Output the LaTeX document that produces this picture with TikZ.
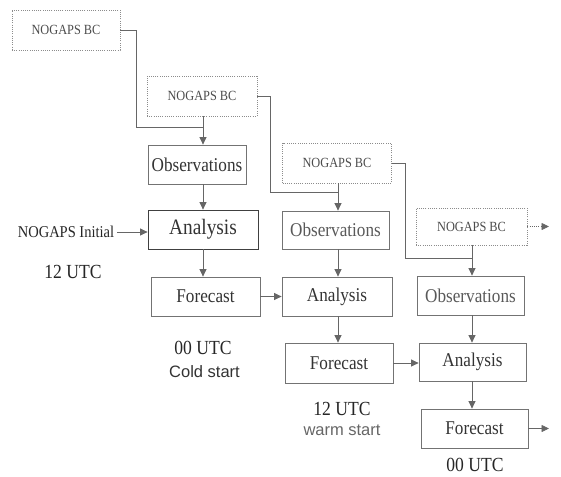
\documentclass[tikz,border=0pt]{standalone}
\usepackage{fontspec}
\setmainfont{Liberation Serif}
\newfontfamily\cond[FakeStretch=0.88]{Liberation Serif}
\newfontfamily\arialf{Liberation Sans}
\usetikzlibrary{arrows.meta}
\begin{document}
\begin{tikzpicture}[x=1pt,y=-1pt,
 box/.style={draw=black!55, line width=0.8pt, minimum height=39pt, inner sep=0pt, font=\cond\fontsize{19.5}{20}\selectfont, text=black!80},
 bcbox/.style={draw=black!45, dash pattern=on 1pt off 1.2pt, line width=0.8pt, minimum height=40pt, inner sep=0pt, font=\cond\fontsize{14}{15}\selectfont, text=black!70},
 conn/.style={draw=black!60, line width=0.8pt},
 arr/.style={conn, -{Triangle[length=7.5pt,width=7pt]}},
 lbl/.style={font=\cond\fontsize{20}{22}\selectfont, text=black!85, inner sep=0pt},
 sub/.style={font=\arialf\fontsize{16.5}{18}\selectfont, text=black!80, inner sep=0pt}]
\useasboundingbox (0,0) rectangle (561,476);
% NOGAPS BC boxes
\node[bcbox, minimum width=108pt] (BC1) at (66,30) {NOGAPS BC};
\node[bcbox, minimum width=110pt] (BC2) at (202,96) {NOGAPS BC};
\node[bcbox, minimum width=109pt] (BC3) at (337,163) {NOGAPS BC};
\node[bcbox, minimum width=111pt, minimum height=37pt] (BC4) at (471.5,226.5) {NOGAPS BC};
% column 1
\node[box, minimum width=98pt] (Obs1) at (197,164.5) {Observations};
\node[box, minimum width=110pt, draw=black!75, font=\cond\fontsize{22}{24}\selectfont] (An1) at (203,229.5) {Analysis};
\node[box, minimum width=109pt] (Fc1) at (205.5,296.5) {Forecast};
% column 2
\node[box, minimum width=107pt, minimum height=38pt, text=black!65] (Obs2) at (335.5,230) {Observations};
\node[box, minimum width=110pt] (An2) at (337,296.5) {Analysis};
\node[box, minimum width=108pt, minimum height=40pt] (Fc2) at (339,363) {Forecast};
% column 3
\node[box, minimum width=107pt, text=black!65] (Obs3) at (470.5,295.5) {Observations};
\node[box, minimum width=107pt, minimum height=38pt] (An3) at (472.5,362) {Analysis};
\node[box, minimum width=107pt] (Fc3) at (474.5,428.5) {Forecast};
% labels
\node[lbl, font=\cond\fontsize{16.5}{18}\selectfont, inner sep=3pt] (init) at (66,232) {NOGAPS Initial};
\node[lbl] (t1) at (73,272) {12 UTC};
\node[lbl] (t2) at (203,348) {00 UTC};
\node[sub] (s2) at (204.5,372) {Cold start};
\node[lbl] (t3) at (342,409) {12 UTC};
\node[sub, text=black!60] (s3) at (342,430) {warm start};
\node[lbl] (t4) at (475,465) {00 UTC};
% junctions and free ends
\coordinate (J1) at (203,127);
\coordinate (J2) at (338,192);
\coordinate (J3) at (472,258);
\coordinate (E1) at (549,226.5);
\coordinate (E2) at (549,428.5);
% BC connectors
\draw[conn] (BC1.east) -- ++(16,0) |- (J1);
\draw[conn] (BC2.south -| J1) -- (J1);
\draw[arr] (J1) -- (J1 |- Obs1.north);
\draw[conn] (BC2.east) -- ++(13,0) |- (J2);
\draw[conn] (BC3.south -| J2) -- (J2);
\draw[arr] (J2) -- (J2 |- Obs2.north);
\draw[conn] (BC3.east) -- ++(13,0) |- (J3);
\draw[conn] (BC4.south -| J3) -- (J3);
\draw[arr] (J3) -- (J3 |- Obs3.north);
\draw[arr, dash pattern=on 1pt off 1.2pt] (BC4.east) -- (E1);
% vertical flow
\draw[arr] (Obs1.south -| J1) -- (An1.north -| J1);
\draw[arr] (An1.south -| J1) -- (Fc1.north -| J1);
\draw[arr] (Obs2.south -| J2) -- (An2.north -| J2);
\draw[arr] (An2.south -| J2) -- (Fc2.north -| J2);
\draw[arr] (Obs3.south -| J3) -- (An3.north -| J3);
\draw[arr] (An3.south -| J3) -- (Fc3.north -| J3);
% horizontal flow
\draw[arr] (init.east) -- (init.east -| An1.west);
\draw[arr] (Fc1.east) -- (Fc1.east -| An2.west);
\draw[arr] (Fc2.east) -- (Fc2.east -| An3.west);
\draw[arr] (Fc3.east) -- (E2);
\end{tikzpicture}
\end{document}
